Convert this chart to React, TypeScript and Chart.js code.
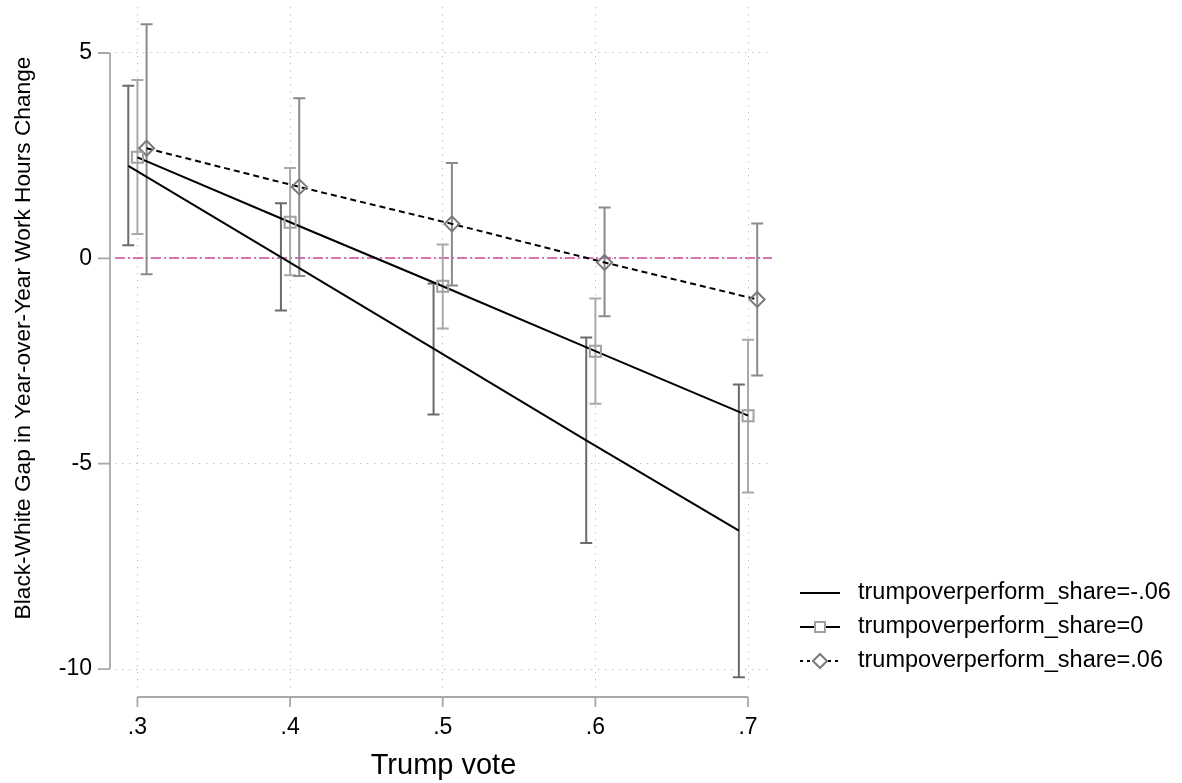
import React, { useEffect, useRef } from 'react';
import { Chart, registerables } from 'chart.js';

Chart.register(...registerables);

// ---- data ----
const xCats = [0.3, 0.4, 0.5, 0.6, 0.7];
const xTickLabels = ['.3', '.4', '.5', '.6', '.7'];
const yTickValues = [-10, -5, 0, 5];
const seriesLabels = [
  'trumpoverperform_share=-.06',
  'trumpoverperform_share=0',
  'trumpoverperform_share=.06',
];
const yTitle = 'Black-White Gap in Year-over-Year Work Hours Change';
const xTitle = 'Trump vote';
const dodge = [-0.006, 0, 0.006];

const estNeg = [2.25, 0.03, -2.2, -4.43, -6.63];
const loNeg = [0.32, -1.27, -3.8, -6.93, -10.2];
const hiNeg = [4.2, 1.34, -0.61, -1.93, -3.07];

const estZero = [2.46, 0.88, -0.68, -2.26, -3.83];
const loZero = [0.59, -0.41, -1.71, -3.54, -5.7];
const hiZero = [4.34, 2.2, 0.34, -0.98, -1.98];

const estPos = [2.68, 1.74, 0.84, -0.1, -1.0];
const loPos = [-0.39, -0.43, -0.66, -1.41, -2.85];
const hiPos = [5.7, 3.9, 2.32, 1.24, 0.85];

const refLineValue = 0;

const estAll = [estNeg, estZero, estPos];
const loAll = [loNeg, loZero, loPos];
const hiAll = [hiNeg, hiZero, hiPos];

// ---- styles ----
const FONT = '"Liberation Sans", Arial, Helvetica, sans-serif';
const ciColors = ['#6b6b6b', '#a9a9a9', '#8a8a8a'];
const markerColors = ['#000000', '#a0a0a0', '#7a7a7a'];
const axisColor = '#a8a8a8';
const gridColor = '#c4c4c4';

const errorBarPlugin = {
  id: 'errorBars',
  beforeDatasetsDraw(chart: any) {
    const { ctx, chartArea } = chart;
    const xs = chart.scales.x;
    const ys = chart.scales.y;
    // reference line
    ctx.save();
    ctx.strokeStyle = '#d873b6';
    ctx.lineWidth = 2;
    ctx.setLineDash([10, 3, 2, 3]);
    const y0 = Math.round(ys.getPixelForValue(refLineValue));
    ctx.beginPath();
    ctx.moveTo(chartArea.left, y0);
    ctx.lineTo(chartArea.right, y0);
    ctx.stroke();
    ctx.restore();

    ctx.save();
    ctx.lineWidth = 2;
    ctx.setLineDash([]);
    const cap = 6;
    for (let s = 0; s < 3; s++) {
      ctx.strokeStyle = ciColors[s];
      for (let j = 0; j < xCats.length; j++) {
        const px = xs.getPixelForValue(xCats[j] + dodge[s]);
        const pl = ys.getPixelForValue(loAll[s][j]);
        const ph = ys.getPixelForValue(hiAll[s][j]);
        ctx.beginPath();
        ctx.moveTo(px, pl);
        ctx.lineTo(px, ph);
        ctx.moveTo(px - cap, pl);
        ctx.lineTo(px + cap, pl);
        ctx.moveTo(px - cap, ph);
        ctx.lineTo(px + cap, ph);
        ctx.stroke();
      }
    }
    ctx.restore();
  },
};

const axesPlugin = {
  id: 'offsetAxes',
  afterDraw(chart: any) {
    const { ctx, chartArea } = chart;
    const xs = chart.scales.x;
    const ys = chart.scales.y;
    ctx.save();
    ctx.strokeStyle = axisColor;
    ctx.lineWidth = 1.8;
    ctx.setLineDash([]);
    // y axis
    const ax = chartArea.left - 5;
    const yTop = ys.getPixelForValue(yTickValues[yTickValues.length - 1]);
    const yBot = ys.getPixelForValue(yTickValues[0]);
    ctx.beginPath();
    ctx.moveTo(ax, yTop);
    ctx.lineTo(ax, yBot);
    yTickValues.forEach((v) => {
      const py = ys.getPixelForValue(v);
      ctx.moveTo(ax - 12, py);
      ctx.lineTo(ax, py);
    });
    ctx.stroke();
    // x axis
    const ay = chartArea.bottom + 7;
    const xL = xs.getPixelForValue(xCats[0]);
    const xR = xs.getPixelForValue(xCats[xCats.length - 1]);
    ctx.beginPath();
    ctx.moveTo(xL, ay);
    ctx.lineTo(xR, ay);
    xCats.forEach((v) => {
      const px = xs.getPixelForValue(v);
      ctx.moveTo(px, ay);
      ctx.lineTo(px, ay + 10);
    });
    ctx.stroke();
    ctx.restore();

    // y title
    ctx.save();
    ctx.translate(24, 338);
    ctx.rotate(-Math.PI / 2);
    ctx.font = `22.7px ${FONT}`;
    ctx.textAlign = 'center';
    ctx.textBaseline = 'middle';
    ctx.fillStyle = '#000';
    ctx.fillText(yTitle, 0, 0);
    ctx.restore();

    // legend
    ctx.save();
    const lx0 = 800;
    const lx1 = 840;
    const tx = 858;
    const rowsY = [593, 627, 661];
    ctx.font = `23.5px ${FONT}`;
    ctx.textBaseline = 'middle';
    ctx.fillStyle = '#000';
    for (let i = 0; i < 3; i++) {
      const y = rowsY[i];
      ctx.strokeStyle = '#000';
      ctx.lineWidth = 2;
      ctx.setLineDash(i === 2 ? [3, 4] : []);
      ctx.beginPath();
      ctx.moveTo(lx0, y);
      ctx.lineTo(lx1, y);
      ctx.stroke();
      ctx.setLineDash([]);
      const cx = (lx0 + lx1) / 2;
      if (i === 1) {
        ctx.fillStyle = '#fff';
        ctx.fillRect(cx - 5, y - 5, 10, 10);
        ctx.strokeStyle = markerColors[1];
        ctx.lineWidth = 2;
        ctx.strokeRect(cx - 5, y - 5, 10, 10);
      } else if (i === 2) {
        ctx.fillStyle = '#fff';
        ctx.beginPath();
        ctx.moveTo(cx, y - 7);
        ctx.lineTo(cx + 7, y);
        ctx.lineTo(cx, y + 7);
        ctx.lineTo(cx - 7, y);
        ctx.closePath();
        ctx.fill();
        ctx.strokeStyle = markerColors[2];
        ctx.lineWidth = 2;
        ctx.stroke();
      }
      ctx.fillStyle = '#000';
      ctx.fillText(seriesLabels[i], tx, y);
    }
    ctx.restore();
  },
};

export default function App() {
  const canvasRef = useRef<HTMLCanvasElement | null>(null);

  useEffect(() => {
    if (!canvasRef.current) return;
    const mk = (s: number) => xCats.map((x, j) => ({ x: x + dodge[s], y: estAll[s][j] }));
    const chart = new Chart(canvasRef.current, {
      type: 'line',
      data: {
        datasets: [
          {
            label: seriesLabels[0],
            data: mk(0),
            borderColor: '#000',
            borderWidth: 2,
            pointRadius: 0,
            fill: false,
          },
          {
            label: seriesLabels[1],
            data: mk(1),
            borderColor: '#000',
            borderWidth: 2,
            pointStyle: 'rect',
            pointRadius: 7.8,
            pointBorderWidth: 2,
            pointBorderColor: markerColors[1],
            pointBackgroundColor: 'rgba(255,255,255,0)',
            fill: false,
          },
          {
            label: seriesLabels[2],
            data: mk(2),
            borderColor: '#000',
            borderWidth: 2,
            borderDash: [6, 4],
            pointStyle: 'rectRot',
            pointRadius: 7.5,
            pointBorderWidth: 2,
            pointBorderColor: markerColors[2],
            pointBackgroundColor: 'rgba(255,255,255,0)',
            fill: false,
          },
        ],
      },
      options: {
        responsive: false,
        animation: false,
        devicePixelRatio: 1,
        layout: { autoPadding: false, padding: { left: 0, top: 7, right: 410, bottom: 0 } },
        plugins: {
          legend: { display: false },
          tooltip: { enabled: false },
        },
        scales: {
          x: {
            type: 'linear',
            min: 0.2853,
            max: 0.7157,
            afterBuildTicks: (scale: any) => {
              scale.ticks = xCats.map((v) => ({ value: v }));
            },
            afterFit: (scale: any) => {
              scale.height = 93;
              scale.paddingLeft = 0;
              scale.paddingRight = 0;
              scale.paddingTop = 0;
              scale.paddingBottom = 0;
            },
            grid: { color: gridColor, lineWidth: 1, drawTicks: false },
            border: { display: false, dash: [1.5, 5.5] },
            ticks: {
              padding: 24,
              color: '#000',
              font: { family: FONT, size: 23 },
              maxRotation: 0,
              callback: (_v: any, i: number) => xTickLabels[i],
            },
            title: {
              display: true,
              text: xTitle,
              color: '#000',
              font: { family: FONT, size: 29 },
              padding: { top: 0, bottom: 0 },
            },
          },
          y: {
            type: 'linear',
            min: -10.51,
            max: 6.12,
            afterBuildTicks: (scale: any) => {
              scale.ticks = yTickValues.map((v) => ({ value: v }));
            },
            afterFit: (scale: any) => {
              scale.width = 115;
              scale.paddingLeft = 0;
              scale.paddingRight = 0;
              scale.paddingTop = 0;
              scale.paddingBottom = 0;
            },
            grid: { color: gridColor, lineWidth: 1, drawTicks: false },
            border: { display: false, dash: [1.5, 5.5] },
            ticks: {
              padding: 23,
              color: '#000',
              font: { family: FONT, size: 23 },
              callback: (v: any) => String(v),
            },
            title: { display: false },
          },
        },
      },
      plugins: [errorBarPlugin, axesPlugin],
    } as any);
    return () => chart.destroy();
  }, []);

  return (
    <div style={{ position: 'absolute', left: 0, top: 0, width: 1182, height: 783, background: '#fff' }}>
      <canvas ref={canvasRef} width={1182} height={783} style={{ display: 'block' }} />
    </div>
  );
}
